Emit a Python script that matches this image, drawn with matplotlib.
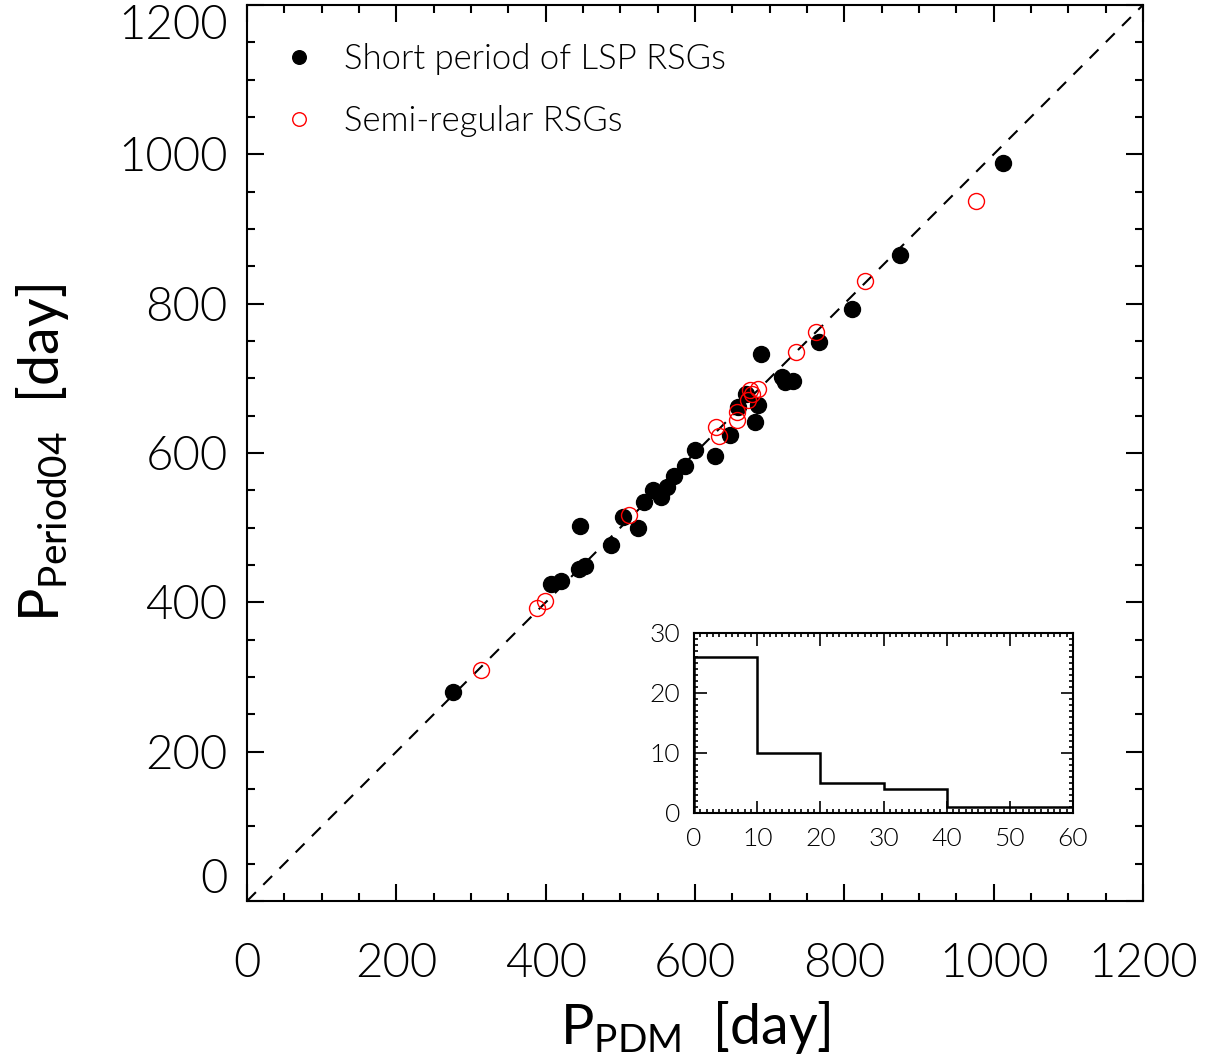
import matplotlib
matplotlib.use("Agg")
import matplotlib.pyplot as plt
from matplotlib.ticker import MultipleLocator

plt.rcParams['font.family'] = ['Lato', 'DejaVu Sans']
plt.rcParams['font.weight'] = 300
plt.rcParams['mathtext.default'] = 'regular'

# short period of LSP RSGs (filled black)
lsp_pdm = [276, 446, 407, 421, 445, 452, 487, 504, 524, 532, 544, 554, 563, 572, 586,
           600, 627, 647, 657, 668, 680, 685, 689, 716, 720, 731, 766, 810, 874, 1013]
lsp_p04 = [280, 502, 425, 429, 444, 448, 477, 514, 499, 535, 550, 541, 554, 569, 582,
           604, 596, 624, 662, 679, 642, 664, 733, 702, 695, 697, 749, 793, 865, 988]

# semi-regular RSGs (open red)
sr_pdm = [313, 389, 399, 512, 628, 632, 656, 656, 671, 674, 676, 684, 735, 762, 828, 976]
sr_p04 = [310, 393, 402, 517, 635, 623, 655, 644, 671, 685, 679, 686, 735, 762, 830, 937]

# inset histogram
hist_edges = [0, 10, 20, 30, 40, 50, 60]
hist_counts = [26, 10, 5, 4, 1, 1]

fig = plt.figure(figsize=(12.14, 10.61), dpi=100)
ax = fig.add_axes([0.2035, 0.1508, 0.738, 0.8445])

ax.plot([0, 1200], [0, 1200], color='k', lw=1.5, dashes=(6, 5))
ax.plot(lsp_pdm, lsp_p04, 'o', color='k', ms=11.5, ls='none',
        label='Short period of LSP RSGs')
ax.plot(sr_pdm, sr_p04, 'o', mfc='none', mec='red', mew=1.0, ms=11.5, ls='none',
        label='Semi-regular RSGs')

ax.set_xlim(0, 1200)
ax.set_ylim(0, 1200)
ax.xaxis.set_major_locator(MultipleLocator(200))
ax.yaxis.set_major_locator(MultipleLocator(200))
ax.xaxis.set_minor_locator(MultipleLocator(50))
ax.yaxis.set_minor_locator(MultipleLocator(50))
ax.tick_params(which='both', direction='in', top=True, right=True, width=1.5)
ax.tick_params(which='major', length=12, labelsize=34)
ax.tick_params(which='minor', length=6)
ax.tick_params(axis='x', which='major', pad=30)
ax.tick_params(axis='y', which='major', pad=14)
for s in ax.spines.values():
    s.set_linewidth(1.5)

fig.canvas.draw()
for t in ax.get_yticklabels():
    if t.get_text() == '1200':
        t.set_va('top')
    elif t.get_text() == '0':
        t.set_va('bottom')

ax.set_xlabel(r'P$_{PDM}$  [day]', fontsize=40, labelpad=10)
ax.set_ylabel(r'P$_{Period04}$  [day]', fontsize=40, labelpad=34)

ax.legend(loc='upper left', bbox_to_anchor=(-0.016, 0.992), frameon=False,
          fontsize=25, handletextpad=0.3, labelspacing=0.85, markerscale=0.85)

# inset
axi = fig.add_axes([0.5717, 0.234, 0.3122, 0.1694])
axi.stairs(hist_counts, hist_edges, color='k', lw=1.8)
axi.set_xlim(0, 60)
axi.set_ylim(0, 30)
axi.xaxis.set_major_locator(MultipleLocator(10))
axi.yaxis.set_major_locator(MultipleLocator(10))
axi.xaxis.set_minor_locator(MultipleLocator(1))
axi.yaxis.set_minor_locator(MultipleLocator(1))
axi.tick_params(which='both', direction='in', top=True, right=True, width=1.2)
axi.tick_params(which='major', length=9, labelsize=19, pad=10)
axi.tick_params(which='minor', length=3)
for s in axi.spines.values():
    s.set_linewidth(1.5)

fig.savefig('out.png', dpi=100)
